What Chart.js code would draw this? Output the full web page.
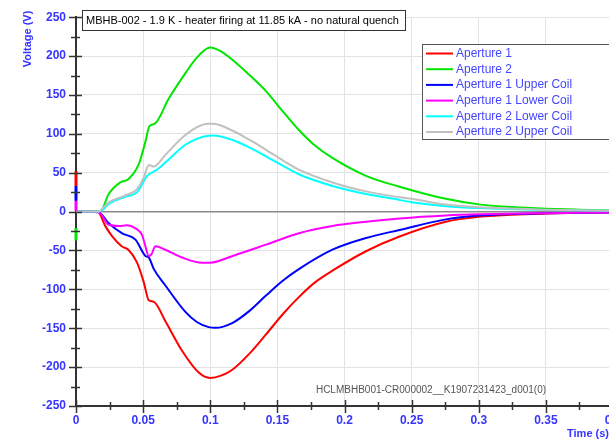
<!DOCTYPE html>
<html>
<head>
<meta charset="utf-8">
<script src="https://cdn.jsdelivr.net/npm/chart.js@4"></script>
<style>
  html, body { margin: 0; padding: 0; background: #fff; overflow: hidden; }
  #wrap { width: 609px; height: 440px; overflow: hidden; }
</style>
</head>
<body>
<div id="wrap"><canvas id="voltChart" width="640" height="440"></canvas></div>
<script>
// --- data (time in s, voltage in V) ---
const ap1T = [0, 0.016, 0.022, 0.027, 0.034, 0.039, 0.0455, 0.0505, 0.0542, 0.058, 0.0666, 0.079, 0.0914, 0.1, 0.108, 0.1167, 0.129, 0.1415, 0.154, 0.166, 0.178, 0.191, 0.216, 0.241, 0.2755, 0.3, 0.325, 0.35, 0.375, 0.4];
const ap1V = [0, 0, -19, -32, -44.6, -49, -65.7, -91, -114, -116, -141, -179, -207, -214, -211, -203, -183, -158, -132, -110, -91, -76, -51, -32, -13, -6.7, -4, -2.5, -1.5, -1];

const ap2T = [0, 0.018, 0.0244, 0.033, 0.039, 0.0467, 0.0517, 0.0547, 0.0587, 0.069, 0.0815, 0.09, 0.1, 0.108, 0.1167, 0.129, 0.1415, 0.154, 0.166, 0.178, 0.191, 0.216, 0.241, 0.2755, 0.3, 0.325, 0.35, 0.375, 0.4];
const ap2V = [0, 0, 22.7, 37.5, 41.7, 60.6, 90, 110, 113, 145, 178, 198, 211, 206, 195, 176, 155, 129, 105, 85, 69, 46, 32, 16.4, 9.3, 5.9, 3.8, 2.5, 1.5];

const ap1UpT = [0, 0.017, 0.0244, 0.0344, 0.0443, 0.0517, 0.0542, 0.058, 0.0666, 0.0815, 0.09, 0.0988, 0.104, 0.1167, 0.129, 0.1415, 0.154, 0.166, 0.191, 0.216, 0.241, 0.2755, 0.3, 0.325, 0.35, 0.375, 0.4];
const ap1UpV = [0, -1, -15, -28, -36, -57, -59, -74, -95, -129, -142, -148.6, -149.5, -143, -128, -108, -89, -74, -49, -34, -23.6, -10, -5, -3, -2, -1.5, -1];

const ap1LoT = [0, 0.017, 0.0244, 0.0319, 0.038, 0.0443, 0.0492, 0.0517, 0.0542, 0.0562, 0.0591, 0.0666, 0.079, 0.0939, 0.1, 0.1167, 0.1415, 0.166, 0.191, 0.216, 0.241, 0.2755, 0.3, 0.35, 0.4];
const ap1LoV = [0, -1, -17, -18.5, -17.7, -21.5, -30, -44.6, -57, -55, -44.6, -49, -59, -65.7, -65.7, -57, -42.5, -27.8, -18.5, -13, -8.8, -5, -3.5, -2, -1];

const ap2LoT = [0, 0.017, 0.0195, 0.0244, 0.0356, 0.0455, 0.053, 0.0604, 0.069, 0.0815, 0.0988, 0.102, 0.1167, 0.129, 0.1415, 0.154, 0.166, 0.191, 0.216, 0.241, 0.25, 0.2755, 0.3, 0.35, 0.4];
const ap2LoV = [0, 0, 1.7, 10, 18.5, 25, 46, 54, 67, 86, 97.6, 97.8, 92, 82.5, 71, 59, 48, 33, 22.7, 15, 12, 7, 4.5, 2, 1];

const ap2UpT = [0, 0.017, 0.0195, 0.0244, 0.0356, 0.0455, 0.0505, 0.0542, 0.058, 0.0666, 0.0815, 0.0988, 0.102, 0.1167, 0.129, 0.1415, 0.154, 0.166, 0.191, 0.216, 0.241, 0.25, 0.2755, 0.3, 0.35, 0.4];
const ap2UpV = [0, 0, 3.8, 12, 20, 29, 44, 60, 58, 73, 98.5, 113, 113, 104, 92.5, 79.5, 66, 54, 37.5, 26, 18.5, 16.5, 9, 5.5, 2.5, 1];

const seriesNames = ["Aperture 1", "Aperture 2", "Aperture 1 Upper Coil", "Aperture 1 Lower Coil", "Aperture 2 Lower Coil", "Aperture 2 Upper Coil"];
const seriesColors = ["#ff0000", "#00e600", "#0000ff", "#ff00ff", "#00ffff", "#c0c0c0"];

// small cursor marks sitting on the y axis at t = 0
const cursorColors = ["#ff0000", "#0000ff", "#ff00ff", "#00e600"];
const cursorLow = [33, 14, 1, -37];
const cursorHigh = [52, 33, 14, -21];

const chartTitle = "MBHB-002 - 1.9 K - heater firing at 11.85 kA - no natural quench";
const fileTag = "HCLMBHB001-CR000002__K1907231423_d001(0)";

const FONT = "'Liberation Sans', Arial, sans-serif";
const BLUE = "#3535ff";

function pts(ts, vs) {
    return ts.map((t, i) => ({ x: t, y: vs[i] }));
}

const allT = [ap1T, ap2T, ap1UpT, ap1LoT, ap2LoT, ap2UpT];
const allV = [ap1V, ap2V, ap1UpV, ap1LoV, ap2LoV, ap2UpV];

const datasets = seriesNames.map((name, i) => ({
    label: name,
    data: pts(allT[i], allV[i]),
    borderColor: seriesColors[i],
    borderWidth: 2,
    pointRadius: 0,
    fill: false,
    cubicInterpolationMode: "monotone",
    order: 6 - i
}));

cursorColors.forEach((c, i) => {
    datasets.push({
        label: "",
        cursor: true,
        data: [{ x: 0, y: cursorLow[i] }, { x: 0, y: cursorHigh[i] }],
        borderColor: c,
        borderWidth: 3,
        pointRadius: 0,
        clip: false,
        order: 0
    });
});

// extra decorations: minor/major ticks, titles, boxed title, legend, file tag
const decorations = {
    id: "decorations",
    afterDraw(chart) {
        const ctx = chart.ctx;
        const xs = chart.scales.x, ys = chart.scales.y;
        const area = chart.chartArea;
        ctx.save();

        // ticks crossing the axes
        ctx.strokeStyle = "#333";
        ctx.lineWidth = 1.5;
        for (let v = -250; v <= 250; v += 25) {
            const y = Math.round(ys.getPixelForValue(v)) + 0.5;
            const major = v % 50 === 0;
            ctx.beginPath();
            ctx.moveTo(area.left - (major ? 7 : 5), y);
            ctx.lineTo(area.left + (major ? 6 : 4), y);
            ctx.stroke();
        }
        for (let k = 0; k <= 16; k++) {
            const x = Math.round(xs.getPixelForValue(k * 0.025)) + 0.5;
            const major = k % 2 === 0;
            ctx.beginPath();
            ctx.moveTo(x, area.bottom - (major ? 6 : 4));
            ctx.lineTo(x, area.bottom + (major ? 7 : 4));
            ctx.stroke();
        }

        // axis titles
        ctx.fillStyle = BLUE;
        ctx.font = "bold 11px " + FONT;
        ctx.textAlign = "center";
        ctx.textBaseline = "middle";
        ctx.translate(28, 39);
        ctx.rotate(-Math.PI / 2);
        ctx.fillText("Voltage (V)", 0, 0);
        ctx.setTransform(1, 0, 0, 1, 0, 0);
        ctx.textAlign = "right";
        ctx.fillText("Time (s)", 609, 434);

        // boxed title
        ctx.fillStyle = "#fff";
        ctx.fillRect(82.5, 10.5, 323, 20);
        ctx.strokeStyle = "#333";
        ctx.lineWidth = 1;
        ctx.strokeRect(82.5, 10.5, 323, 20);
        ctx.fillStyle = "#000";
        ctx.font = "11px " + FONT;
        ctx.textAlign = "left";
        ctx.fillText(chartTitle, 86, 21);

        // legend box
        ctx.fillStyle = "#fff";
        ctx.fillRect(422.5, 44.5, 200, 95);
        ctx.strokeStyle = "#555";
        ctx.strokeRect(422.5, 44.5, 200, 95);
        chart.data.datasets.filter(d => !d.cursor).forEach((d, i) => {
            const y = 53.5 + i * 15.7;
            ctx.strokeStyle = d.borderColor;
            ctx.lineWidth = 2;
            ctx.beginPath();
            ctx.moveTo(426, y);
            ctx.lineTo(453, y);
            ctx.stroke();
            ctx.fillStyle = "#4545ff";
            ctx.font = "12px " + FONT;
            ctx.fillText(d.label, 456, y);
        });

        // file tag
        ctx.fillStyle = "#555";
        ctx.font = "10px " + FONT;
        ctx.textAlign = "center";
        ctx.fillText(fileTag, 431, 390);

        ctx.restore();
    }
};

const chart = new Chart(document.getElementById("voltChart").getContext("2d"), {
    type: "line",
    data: { datasets: datasets },
    options: {
        responsive: false,
        animation: false,
        layout: { padding: { top: 10, right: 27, left: 0, bottom: 0 } },
        plugins: { legend: { display: false }, tooltip: { enabled: false } },
        scales: {
            x: {
                type: "linear",
                min: 0,
                max: 0.4,
                afterFit: s => { s.height = 34; },
                ticks: {
                    stepSize: 0.05,
                    padding: 7,
                    color: BLUE,
                    font: { family: FONT, size: 12, weight: "bold" },
                    maxRotation: 0,
                    callback: v => String(+v.toFixed(3))
                },
                grid: { color: "#e2e2e2", lineWidth: 1, drawTicks: false },
                border: { color: "#333", width: 2 }
            },
            y: {
                min: -250,
                max: 250,
                afterFit: s => { s.width = 76; },
                ticks: {
                    stepSize: 50,
                    padding: 10,
                    color: BLUE,
                    font: { family: FONT, size: 12, weight: "bold" }
                },
                grid: {
                    color: c => (c.tick && c.tick.value === 0 ? "#8a8a8a" : "#e2e2e2"),
                    lineWidth: c => (c.tick && c.tick.value === 0 ? 1.5 : 1),
                    drawTicks: false
                },
                border: { color: "#333", width: 2 }
            }
        }
    },
    plugins: [decorations]
});
</script>
</body>
</html>
